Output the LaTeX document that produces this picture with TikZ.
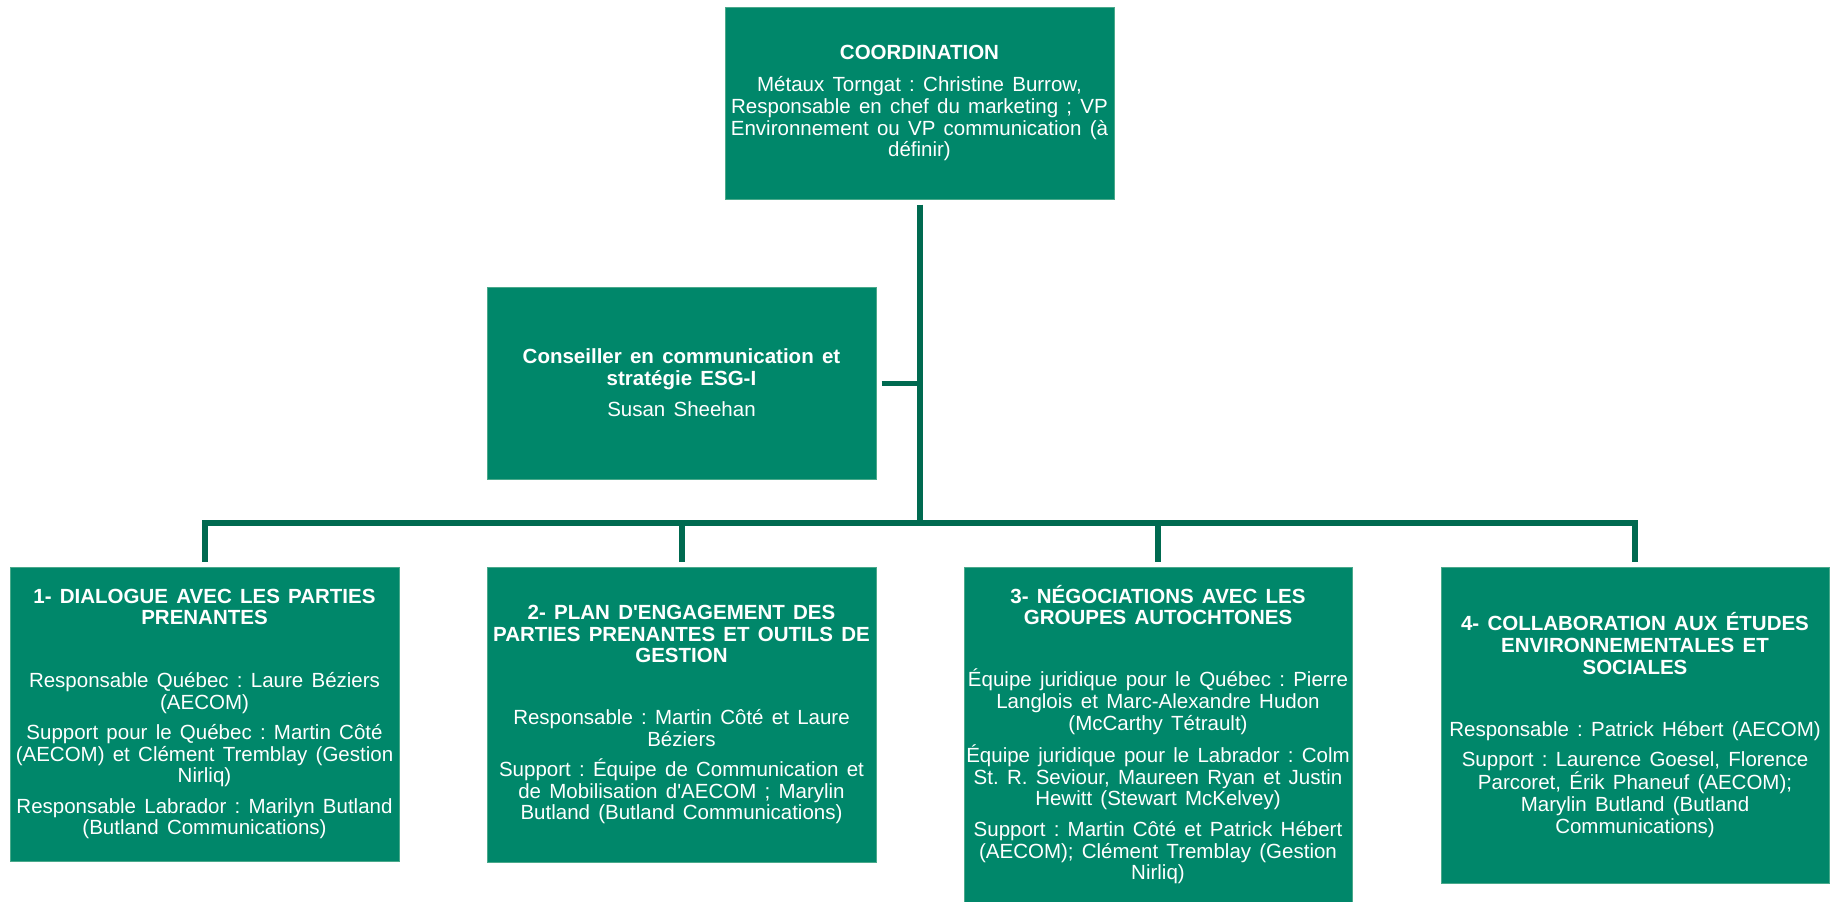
\documentclass[tikz,border=0pt]{standalone}
\usepackage{fontspec}
\newfontfamily\arialf{Liberation Sans}[Ligatures=TeXOff, WordSpace=1.45]
\definecolor{boxgreen}{HTML}{00876A}
\definecolor{boxedge}{HTML}{4AA98B}
\definecolor{linegreen}{HTML}{006A50}
\frenchspacing
\begin{document}
\begin{tikzpicture}[x=1pt,y=-1pt,
  orgbox/.style={rectangle, fill=boxgreen, draw=boxedge, line width=1pt,
    text=white, align=center, inner sep=0pt,
    font=\arialf\frenchspacing\fontsize{20.5}{21.7}\selectfont},
  conn/.style={draw=linegreen, line width=6pt, line join=miter}]
\useasboundingbox (0,0) rectangle (1837,902);

\node[orgbox, minimum width=389pt, minimum height=192pt] (top) at (919.5,103)
 {\textbf{COORDINATION}\\[11pt]
  Métaux Torngat : Christine Burrow,\\
  Responsable en chef du marketing ; VP\\
  Environnement ou VP communication (à\\
  définir)};

\node[orgbox, minimum width=389pt, minimum height=192pt] (cons) at (681.5,383)
 {\textbf{Conseiller en communication et}\\
  \textbf{stratégie ESG-I}\\[9.5pt]
  Susan Sheehan};

\node[orgbox, minimum width=389pt, minimum height=294pt] (b1) at (204.5,714)
 {\textbf{1- DIALOGUE AVEC LES PARTIES}\\
  \textbf{PRENANTES}\\[41pt]
  Responsable Québec : Laure Béziers\\
  (AECOM)\\[8.5pt]
  Support pour le Québec : Martin Côté\\
  (AECOM) et Clément Tremblay (Gestion\\
  Nirliq)\\[8.5pt]
  Responsable Labrador : Marilyn Butland\\
  (Butland Communications)};

\node[orgbox, minimum width=389pt, minimum height=295pt] (b2) at (681.5,714.5)
 {\textbf{2- PLAN D'ENGAGEMENT DES}\\
  \textbf{PARTIES PRENANTES ET OUTILS DE}\\
  \textbf{GESTION}\\[40pt]
  Responsable : Martin Côté et Laure\\
  Béziers\\[8.5pt]
  Support : Équipe de Communication et\\
  de Mobilisation d'AECOM ; Marylin\\
  Butland (Butland Communications)};

\node[orgbox, minimum width=388pt, minimum height=335pt] (b3) at (1158,734.5)
 {\textbf{3- NÉGOCIATIONS AVEC LES}\\
  \textbf{GROUPES AUTOCHTONES}\\[40.5pt]
  Équipe juridique pour le Québec : Pierre\\
  Langlois et Marc-Alexandre Hudon\\
  (McCarthy Tétrault)\\[9pt]
  Équipe juridique pour le Labrador : Colm\\
  St. R. Seviour, Maureen Ryan et Justin\\
  Hewitt (Stewart McKelvey)\\[9pt]
  Support : Martin Côté et Patrick Hébert\\
  (AECOM); Clément Tremblay (Gestion\\
  Nirliq)};

\node[orgbox, minimum width=388pt, minimum height=316pt] (b4) at (1635,725)
 {\textbf{4- COLLABORATION AUX ÉTUDES}\\
  \textbf{ENVIRONNEMENTALES ET}\\
  \textbf{SOCIALES}\\[41pt]
  Responsable : Patrick Hébert (AECOM)\\[8.5pt]
  Support : Laurence Goesel, Florence\\
  Parcoret, Érik Phaneuf (AECOM);\\
  Marylin Butland (Butland\\
  Communications)};

\coordinate (busy) at (0,523);

% trunk from coordination down to the bus
\draw[conn, shorten <=5pt] (top.south) -- (top.south |- busy);
% side branch to the adviser
\draw[conn, line width=5pt, shorten <=5pt] (cons.east) -- (cons.east -| top.south);
% bus with outer drops
\draw[conn, shorten <=5pt, shorten >=5pt] (b1.north) -- (b1.north |- busy) -- (b4.north |- busy) -- (b4.north);
% inner drops
\draw[conn, shorten >=5pt] (b2.north |- busy) -- (b2.north);
\draw[conn, shorten >=5pt] (b3.north |- busy) -- (b3.north);
\end{tikzpicture}
\end{document}
